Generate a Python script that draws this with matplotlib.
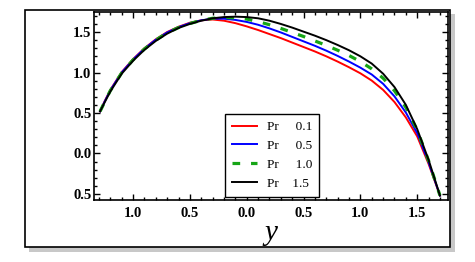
import matplotlib.pyplot as plt
from matplotlib.patches import Rectangle
from matplotlib.ticker import MultipleLocator

# values
x = [-1.29, -1.25, -1.2, -1.1, -1.0, -0.9, -0.8, -0.7, -0.6, -0.5, -0.4, -0.3,
     -0.2, -0.1, 0.0, 0.1, 0.2, 0.3, 0.4, 0.5, 0.6, 0.7, 0.8, 0.9, 1.0, 1.1,
     1.2, 1.3, 1.4, 1.5, 1.6, 1.7]
pr_01 = [0.52, 0.645, 0.785, 1.005, 1.165, 1.30, 1.41, 1.50, 1.565, 1.615, 1.645, 1.655,
         1.64, 1.61, 1.57, 1.525, 1.475, 1.425, 1.37, 1.315, 1.26, 1.20, 1.135, 1.065, 0.99, 0.90,
         0.785, 0.635, 0.445, 0.21, -0.13, -0.52]
pr_05 = [0.52, 0.64, 0.78, 1.0, 1.16, 1.295, 1.405, 1.495, 1.56, 1.61, 1.645, 1.665,
         1.665, 1.65, 1.625, 1.59, 1.545, 1.495, 1.44, 1.385, 1.33, 1.27, 1.205, 1.135, 1.06, 0.975,
         0.86, 0.705, 0.505, 0.25, -0.11, -0.52]
pr_10 = [0.52, 0.635, 0.775, 0.995, 1.155, 1.29, 1.40, 1.49, 1.555, 1.605, 1.645, 1.67,
         1.68, 1.675, 1.66, 1.63, 1.59, 1.545, 1.495, 1.445, 1.39, 1.335, 1.275, 1.21, 1.135, 1.045,
         0.93, 0.775, 0.57, 0.29, -0.09, -0.52]
pr_15 = [0.52, 0.63, 0.765, 0.985, 1.145, 1.28, 1.39, 1.48, 1.55, 1.60, 1.64, 1.67,
         1.685, 1.69, 1.685, 1.67, 1.64, 1.60, 1.555, 1.505, 1.455, 1.40, 1.34, 1.275, 1.20, 1.11,
         0.985, 0.82, 0.60, 0.30, -0.08, -0.52]

labels = ["Pr     0.1", "Pr     0.5", "Pr     1.0", "Pr    1.5"]
xticks = [-1.0, -0.5, 0.0, 0.5, 1.0, 1.5]
xticklabels = ["1.0", "0.5", "0.0", "0.5", "1.0", "1.5"]
yticks = [-0.5, 0.0, 0.5, 1.0, 1.5]
yticklabels = ["0.5", "0.0", "0.5", "1.0", "1.5"]

plt.rcParams['font.family'] = ['Liberation Serif', 'DejaVu Serif']

fig = plt.figure(figsize=(4.75, 2.62), dpi=100)

# picture frame with a soft shadow
fig.patches.append(Rectangle((0.062, 0.040), 0.895, 0.905, transform=fig.transFigure,
                             facecolor='#c8c8c8', edgecolor='none', zorder=0))
fig.patches.append(Rectangle((0.0526, 0.057), 0.895, 0.905, transform=fig.transFigure,
                             facecolor='white', edgecolor='black', linewidth=1.2, zorder=1))

ax = fig.add_axes([0.198, 0.237, 0.745, 0.717])
ax.set_zorder(2)

ax.plot(x, pr_01, color='#ff0000', linewidth=1.4, label=labels[0])
ax.plot(x, pr_05, color='#0000ff', linewidth=1.4, label=labels[1])
ax.plot(x, pr_10, color='#16a516', linewidth=2.3, dashes=(2.4, 3.4), label=labels[2])
ax.plot(x, pr_15, color='black', linewidth=1.4, label=labels[3])

ax.set_xlim(-1.343, 1.77)
ax.set_ylim(-0.574, 1.747)

ax.set_xticks(xticks)
ax.set_xticklabels(xticklabels, fontweight='bold', fontsize=10.5)
ax.set_yticks(yticks)
ax.set_yticklabels(yticklabels, fontweight='bold', fontsize=10.5)
ax.xaxis.set_minor_locator(MultipleLocator(0.1))
ax.yaxis.set_minor_locator(MultipleLocator(0.1))
ax.tick_params(which='both', direction='in', top=True, right=True, width=1.0)
ax.tick_params(which='major', length=4.5)
ax.tick_params(which='minor', length=2.5)
ax.tick_params(axis='x', pad=5)
ax.tick_params(axis='y', pad=2)
for s in ax.spines.values():
    s.set_linewidth(1.2)

ax.set_xlabel('y', fontsize=21, style='italic', labelpad=0)

leg = ax.legend(loc='lower left', bbox_to_anchor=(0.37, 0.016), borderaxespad=0,
                fontsize=9.5, handlelength=1.9, handletextpad=0.7, borderpad=0.55,
                labelspacing=0.5, fancybox=False, framealpha=1)
leg.get_frame().set_edgecolor('black')
leg.get_frame().set_linewidth(1.0)

fig.savefig('out.png', dpi=100)
